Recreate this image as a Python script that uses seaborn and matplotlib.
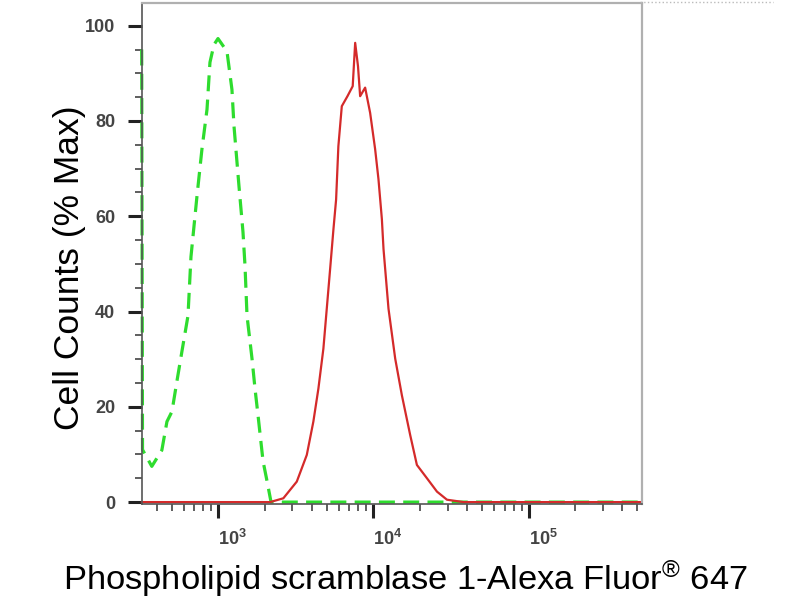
import numpy as np
import pandas as pd
import matplotlib
matplotlib.use("Agg")
import matplotlib.pyplot as plt
import seaborn as sns
from matplotlib.ticker import MultipleLocator, LogLocator, NullFormatter

# Isotype / control histogram (green, dashed)
control_x = [321, 325, 373, 433, 467, 503, 541, 583, 638, 667, 729, 785, 846, 884,
             938, 996, 1138, 1225, 1263, 1360, 1443, 1487, 1532, 1650, 1725, 1804,
             1943, 2062, 2188, 535000]
control_y = [95, 11, 7.5, 10.9, 16.9, 19.0, 25.3, 31.6, 39.1, 51.5, 64.2, 74.1, 82.4, 92.3,
             96.0, 97.3, 94.6, 86.6, 78.9, 66.3, 56.7, 49.6, 39.1, 30.1, 23.8, 18.2,
             8.6, 4.4, 0, 0]

# Antibody stained histogram (red, solid)
stained_x = [321, 2156, 2626, 3206, 3719, 4100, 4417, 4757, 5002, 5260, 5524, 5745,
             5942, 6252, 6800, 7350, 7624, 7950, 8207, 8839, 9519, 10250, 10770, 11330,
             11610, 12500, 13810, 15250, 17240, 19050, 22120, 25660, 29760, 38100, 535000]
stained_y = [0, 0, 0.8, 4.3, 9.9, 16.9, 23.8, 32.2, 40.6, 49.0, 57.3, 63.5,
             74.7, 83.1, 85.2, 87.3, 96.4, 91.5, 85.2, 87.0, 81.7, 74.1, 67.8, 59.4,
             53.1, 40.6, 30.1, 22.4, 14.1, 7.8, 5.0, 2.2, 0.5, 0, 0]

y_ticks = [0, 20, 40, 60, 80, 100]

sns.set_style("ticks")
plt.rcParams["font.family"] = ["Liberation Sans", "DejaVu Sans"]
plt.rcParams["mathtext.fontset"] = "custom"
plt.rcParams["mathtext.rm"] = "Liberation Sans"
plt.rcParams["mathtext.it"] = "Liberation Sans:italic"
plt.rcParams["mathtext.bf"] = "Liberation Sans:bold"
narrow = ["Liberation Sans Narrow", "Liberation Sans", "DejaVu Sans"]

fig = plt.figure(figsize=(8, 6), dpi=100)
ax = fig.add_axes([0.1771, 0.16, 0.625, 0.8345])

sns.lineplot(x=control_x, y=control_y, ax=ax, sort=False, estimator=None,
             color="#2edc2e", linewidth=2.3, linestyle=(0, (5, 2.6)), clip_on=False)
sns.lineplot(x=stained_x, y=stained_y, ax=ax, sort=False, estimator=None,
             color="#d42a2a", linewidth=1.6, clip_on=False)

ax.set_xscale("log")
ax.set_xlim(321, 535000)
ax.set_ylim(-0.4, 104.7)

ax.set_yticks(y_ticks)
ax.yaxis.set_minor_locator(MultipleLocator(5))
ax.xaxis.set_major_locator(LogLocator(base=10, numticks=10))
ax.xaxis.set_minor_locator(LogLocator(base=10, subs=np.arange(2, 10), numticks=20))
ax.xaxis.set_minor_formatter(NullFormatter())

ax.tick_params(axis="both", which="major", direction="out", length=10, width=2.2,
               color="#222222", labelsize=13, labelcolor="#444444")
ax.tick_params(axis="both", which="minor", direction="out", length=5, width=1.1,
               color="#333333")
ax.tick_params(axis="x", which="major", pad=8)
ax.tick_params(axis="y", which="major", pad=9)
fig.canvas.draw()
for lbl in ax.get_xticklabels() + ax.get_yticklabels():
    lbl.set_family(narrow)
    lbl.set_fontweight("bold")
for lbl in ax.get_xticklabels():
    lbl.set_horizontalalignment("left")

for side in ["left", "bottom"]:
    ax.spines[side].set_color("#555555")
    ax.spines[side].set_linewidth(1.2)
for side in ["top", "right"]:
    ax.spines[side].set_color("#b0b0b0")
    ax.spines[side].set_linewidth(1.6)

ax.set_ylabel("Cell Counts (% Max)", fontsize=25.5, color="black")
ax.yaxis.set_label_coords(-0.112, 0.472)
ax.set_xlabel("Phospholipid scramblase 1-Alexa Fluor$^{\u00ae}$ 647", fontsize=24.8,
              color="black")
ax.xaxis.set_label_coords(0.527, -0.108)

# faint dotted border line at the top of the image
fig.add_artist(plt.Line2D([0.8, 0.966], [0.9975, 0.9975], transform=fig.transFigure,
                          color="#bbbbbb", linewidth=1, linestyle=":"))

fig.savefig("out.png", dpi=100)
